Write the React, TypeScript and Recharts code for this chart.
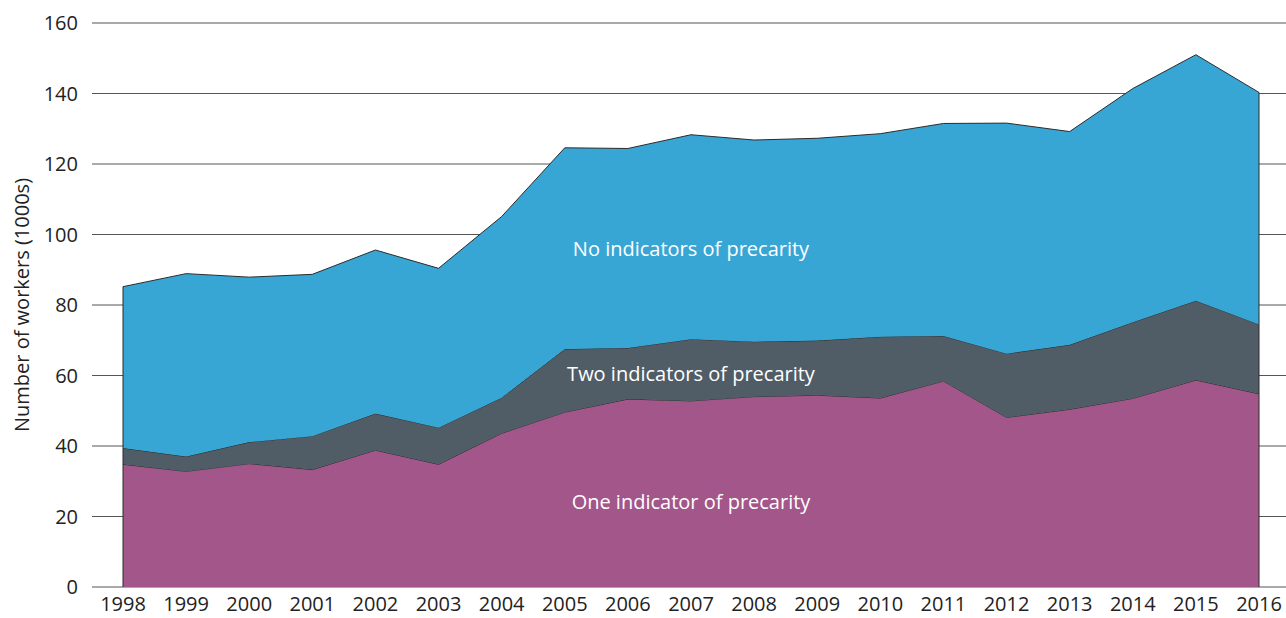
import { AreaChart, Area, XAxis, YAxis, CartesianGrid, ReferenceDot, ReferenceLine } from 'recharts'

const years = ['1998', '1999', '2000', '2001', '2002', '2003', '2004', '2005', '2006', '2007', '2008', '2009', '2010', '2011', '2012', '2013', '2014', '2015', '2016']

// stacked layer values (1000s of workers)
const oneIndicator = [34.8, 32.8, 35.0, 33.3, 38.8, 34.8, 43.6, 49.6, 53.3, 52.8, 54.0, 54.4, 53.6, 58.4, 48.1, 50.4, 53.5, 58.7, 54.8]
const twoIndicators = [4.6, 4.2, 6.1, 9.5, 10.4, 10.4, 10.1, 17.9, 14.5, 17.5, 15.6, 15.5, 17.4, 12.8, 18.1, 18.3, 21.6, 22.5, 19.7]
const noIndicators = [45.8, 51.9, 46.8, 45.9, 46.4, 45.2, 51.4, 57.1, 56.6, 58.0, 57.2, 57.4, 57.6, 60.3, 65.4, 60.5, 66.3, 69.8, 65.8]

const yTicks = [0, 20, 40, 60, 80, 100, 120, 140, 160]

const COLORS = {
  one: '#a3568a',
  two: '#505d66',
  none: '#38a6d5',
  edge: '#2b2b2b',
}

const data = years.map((year, i) => ({
  year,
  one: oneIndicator[i],
  two: twoIndicators[i],
  none: noIndicators[i],
}))

const totalFirst = oneIndicator[0] + twoIndicators[0] + noIndicators[0]
const last = years.length - 1
const totalLast = oneIndicator[last] + twoIndicators[last] + noIndicators[last]

const FONT = '"Open Sans", Lato, sans-serif'
const tickStyle = { fontFamily: FONT, fontSize: 20, fill: '#222' }
const areaLabel = { fontFamily: FONT, fontSize: 20, fill: '#ffffff' }

export default function App() {
  return (
    <div style={{ position: 'absolute', left: 0, top: 0, background: '#fff' }}>
      <AreaChart width={1286} height={618} data={data} margin={{ top: 23, right: 0, bottom: 1, left: 0 }}>
        <CartesianGrid horizontal vertical={false} stroke="#555" strokeWidth={1} />
        <XAxis
          dataKey="year"
          padding={{ left: 31, right: 27 }}
          axisLine={false}
          tickLine={false}
          tickSize={0}
          tickMargin={10}
          tick={tickStyle}
          interval={0}
        />
        <YAxis
          width={92}
          domain={[0, 160]}
          ticks={yTicks}
          axisLine={false}
          tickLine={false}
          tickSize={0}
          tickMargin={14}
          tick={tickStyle}
          label={{
            value: 'Number of workers (1000s)',
            angle: -90,
            position: 'insideLeft',
            offset: 22,
            style: { textAnchor: 'middle', fontFamily: FONT, fontSize: 20, fill: '#222' },
          }}
        />
        <Area type="linear" dataKey="one" stackId="a" fill={COLORS.one} fillOpacity={1} stroke={COLORS.edge} strokeWidth={1} isAnimationActive={false} />
        <Area type="linear" dataKey="two" stackId="a" fill={COLORS.two} fillOpacity={1} stroke={COLORS.edge} strokeWidth={1} isAnimationActive={false} />
        <Area type="linear" dataKey="none" stackId="a" fill={COLORS.none} fillOpacity={1} stroke={COLORS.edge} strokeWidth={1} isAnimationActive={false} />
        <ReferenceLine segment={[{ x: years[0], y: 0 }, { x: years[0], y: totalFirst }]} stroke={COLORS.edge} strokeWidth={1} />
        <ReferenceLine segment={[{ x: years[last], y: 0 }, { x: years[last], y: totalLast }]} stroke={COLORS.edge} strokeWidth={1} />
        <ReferenceDot x="2007" y={95.9} r={0} ifOverflow="visible" label={{ value: 'No indicators of precarity', position: 'center', style: areaLabel }} />
        <ReferenceDot x="2007" y={60.4} r={0} ifOverflow="visible" label={{ value: 'Two indicators of precarity', position: 'center', style: areaLabel }} />
        <ReferenceDot x="2007" y={24.1} r={0} ifOverflow="visible" label={{ value: 'One indicator of precarity', position: 'center', style: areaLabel }} />
      </AreaChart>
    </div>
  )
}
